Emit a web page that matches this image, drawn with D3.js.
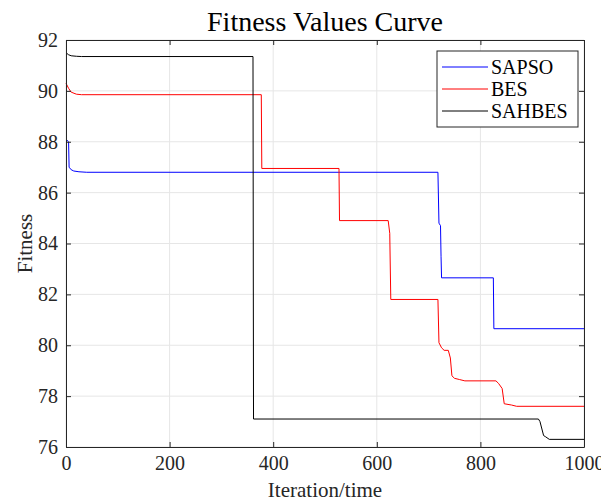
<!DOCTYPE html>
<html>
<head>
<meta charset="utf-8">
<script src="https://cdn.jsdelivr.net/npm/d3@7"></script>
<style>
  body { margin: 0; background: #fff; overflow: hidden; }
  svg text { font-family: "Liberation Serif", "Times New Roman", serif; }
</style>
</head>
<body>
<svg id="drawing_region"></svg>
<script>
// values
const seriesNames = ["SAPSO", "BES", "SAHBES"];
const seriesColors = ["#0000ff", "#ff0000", "#000000"];

const sapsoIter = [0, 5, 6, 10, 15, 25, 40, 718, 720, 723, 724, 725, 825, 826, 1000];
const sapsoFit  = [88.1, 88.0, 87.0, 86.9, 86.85, 86.82, 86.8, 86.8, 84.8, 84.7, 83.5, 82.65, 82.65, 80.65, 80.65];

const besIter = [0, 5, 10, 20, 30, 377, 378, 527, 528, 622, 625, 627, 718, 720, 725, 730, 738, 742, 745, 750, 760, 770, 830, 835, 842, 846, 860, 870, 1000];
const besFit  = [90.3, 90.1, 89.95, 89.87, 89.85, 89.85, 86.95, 86.95, 84.9, 84.9, 84.4, 81.8, 81.8, 80.1, 79.9, 79.8, 79.8, 79.5, 78.8, 78.7, 78.65, 78.6, 78.6, 78.5, 78.3, 77.7, 77.65, 77.6, 77.6];

const sahbesIter = [0, 5, 10, 20, 30, 361, 362, 912, 915, 922, 926, 933, 1000];
const sahbesFit  = [91.5, 91.42, 91.38, 91.36, 91.35, 91.35, 77.1, 77.1, 77.0, 76.45, 76.4, 76.3, 76.3];

const xTicks = [0, 200, 400, 600, 800, 1000];
const yTicks = [76, 78, 80, 82, 84, 86, 88, 90, 92];

const config = {
    width: 601,
    height: 503,
    margin: {top: 40, right: 17, bottom: 56, left: 66}
};

const serif = '"Liberation Serif", "Times New Roman", serif';

const svg = d3.select('#drawing_region')
    .attr('width', config.width)
    .attr('height', config.height);

const inner_width = config.width - config.margin.left - config.margin.right;
const inner_height = config.height - config.margin.top - config.margin.bottom;

const chart = svg.append('g')
    .attr('transform', `translate(${config.margin.left}, ${config.margin.top})`);

const xscale = d3.scaleLinear().domain([0, 1000]).range([0, inner_width]);
const yscale = d3.scaleLinear().domain([76, 92]).range([inner_height, 0]);

// grid
chart.append('g')
    .selectAll('line')
    .data(xTicks)
    .join('line')
    .attr('x1', d => xscale(d)).attr('x2', d => xscale(d))
    .attr('y1', 0).attr('y2', inner_height)
    .attr('stroke', '#e6e6e6').attr('stroke-width', 1);

chart.append('g')
    .selectAll('line')
    .data(yTicks)
    .join('line')
    .attr('x1', 0).attr('x2', inner_width)
    .attr('y1', d => yscale(d)).attr('y2', d => yscale(d))
    .attr('stroke', '#e6e6e6').attr('stroke-width', 1);

// series
const allSeries = [
    {iter: sapsoIter, fit: sapsoFit},
    {iter: besIter, fit: besFit},
    {iter: sahbesIter, fit: sahbesFit}
];

const line = d3.line()
    .x(d => xscale(d[0]))
    .y(d => yscale(d[1]));

allSeries.forEach((s, i) => {
    const pts = s.iter.map((x, j) => [x, s.fit[j]]);
    chart.append('path')
        .datum(pts)
        .attr('fill', 'none')
        .attr('stroke', seriesColors[i])
        .attr('stroke-width', 1)
        .attr('d', line);
});

// axes (ticks inward on all four sides)
const styleAxis = g => {
    g.attr('font-family', null).attr('font-size', null);
    g.select('.domain').attr('stroke', '#262626');
    g.selectAll('.tick line').attr('stroke', '#262626');
    g.selectAll('.tick text')
        .style('font-family', serif)
        .style('font-size', '20px')
        .attr('fill', '#262626');
};

chart.append('g')
    .attr('transform', `translate(0, ${inner_height})`)
    .call(d3.axisBottom(xscale).tickValues(xTicks).tickFormat(d3.format('d')).tickSize(-5).tickPadding(9).tickSizeOuter(0))
    .call(styleAxis);

chart.append('g')
    .call(d3.axisTop(xscale).tickValues(xTicks).tickSize(-5).tickFormat('').tickSizeOuter(0))
    .call(styleAxis);

chart.append('g')
    .call(d3.axisLeft(yscale).tickValues(yTicks).tickSize(-5).tickPadding(8).tickSizeOuter(0))
    .call(styleAxis);

chart.append('g')
    .attr('transform', `translate(${inner_width}, 0)`)
    .call(d3.axisRight(yscale).tickValues(yTicks).tickSize(-5).tickFormat('').tickSizeOuter(0))
    .call(styleAxis);

// title and labels
svg.append('text')
    .attr('x', config.margin.left + inner_width / 2)
    .attr('y', 31)
    .attr('text-anchor', 'middle')
    .style('font-family', serif)
    .style('font-size', '28px')
    .attr('fill', '#000')
    .text('Fitness Values Curve');

svg.append('text')
    .attr('x', config.margin.left + inner_width / 2)
    .attr('y', 497)
    .attr('text-anchor', 'middle')
    .style('font-family', serif)
    .style('font-size', '21px')
    .attr('fill', '#262626')
    .text('Iteration/time');

svg.append('text')
    .attr('transform', `translate(32, ${config.margin.top + inner_height / 2}) rotate(-90)`)
    .attr('text-anchor', 'middle')
    .style('font-family', serif)
    .style('font-size', '21px')
    .attr('fill', '#262626')
    .text('Fitness');

// legend
const legend = svg.append('g').attr('transform', 'translate(437, 51)');
legend.append('rect')
    .attr('width', 141).attr('height', 76)
    .attr('fill', '#fff').attr('stroke', '#262626').attr('stroke-width', 1);

seriesNames.forEach((name, i) => {
    const y = 16 + i * 22;
    legend.append('line')
        .attr('x1', 5).attr('x2', 51)
        .attr('y1', y).attr('y2', y)
        .attr('stroke', seriesColors[i]).attr('stroke-width', 1);
    legend.append('text')
        .attr('x', 54).attr('y', y + 7)
        .style('font-family', serif)
        .style('font-size', '20px')
        .attr('fill', '#000')
        .text(name);
});
</script>
</body>
</html>
